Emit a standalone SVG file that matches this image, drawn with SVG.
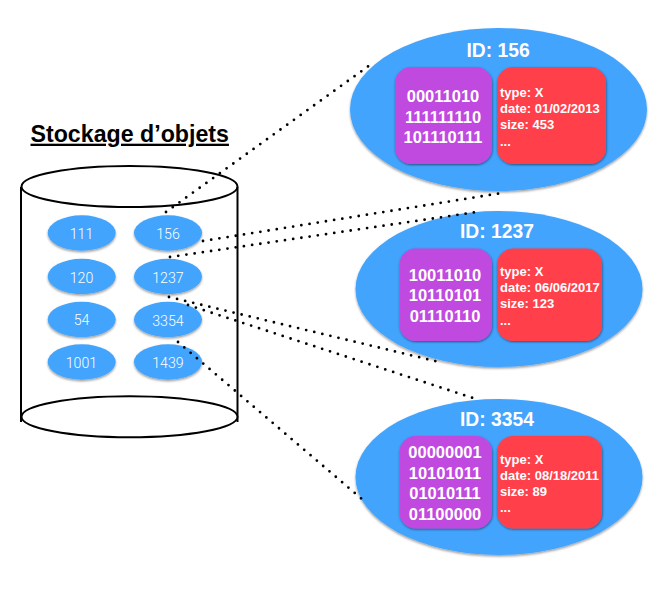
<svg xmlns="http://www.w3.org/2000/svg" width="666" height="593" viewBox="0 0 666 593">
<style>
text{font-family:"Liberation Sans",Arial,sans-serif;fill:#fff}
.title{font-size:23.2px;font-weight:bold;fill:#000;text-decoration:underline}
.id{font-size:19.3px;font-weight:bold;text-anchor:middle}
.bin{font-size:16.5px;font-weight:bold;text-anchor:middle}
.meta{font-size:13px;font-weight:bold}
.lbl{font-family:Roboto,"Liberation Sans",sans-serif;font-weight:300;font-size:14.2px;text-anchor:middle}
.blue{fill:#42a4fd;filter:url(#sh)}
.pur{fill:#c04ae0;filter:url(#shb)}
.red{fill:#ff404c;filter:url(#shb)}
.cyl{fill:#fff;stroke:#000;stroke-width:2}
.wall{fill:none;stroke:#000;stroke-width:2}
.dot{fill:none;stroke:#000;stroke-width:2.8;stroke-linecap:round;stroke-dasharray:0 8.3}
</style>
<defs>
<filter id="sh" x="-10%" y="-10%" width="120%" height="125%"><feDropShadow dx="0" dy="1.5" stdDeviation="1.2" flood-color="#000" flood-opacity=".4"/></filter>
<filter id="shb" x="-10%" y="-10%" width="120%" height="120%"><feDropShadow dx="0.5" dy="1" stdDeviation="0.8" flood-color="#000" flood-opacity=".5"/></filter>
</defs>
<text class="title" x="30.5" y="141.7">Stockage d’objets</text>
<g id="cylinder">
<ellipse class="cyl" cx="129.5" cy="186.5" rx="108" ry="20.5"/>
<path class="wall" d="M21 187V422M237.5 187V422"/>
<ellipse class="cyl" cx="129.5" cy="416.7" rx="108" ry="20.5"/>
</g>
<g id="o111"><ellipse class="blue" cx="81.7" cy="233" rx="34" ry="17.7"/><text class="lbl" x="81.5" y="239">111</text></g>
<g id="o156"><ellipse class="blue" cx="168" cy="233" rx="34" ry="17.7"/><text class="lbl" x="168" y="239">156</text></g>
<g id="o120"><ellipse class="blue" cx="81.7" cy="276.5" rx="34" ry="17.7"/><text class="lbl" x="81.5" y="282.7">120</text></g>
<g id="o1237"><ellipse class="blue" cx="168" cy="276.5" rx="34" ry="17.7"/><text class="lbl" x="168" y="282.7">1237</text></g>
<g id="o54"><ellipse class="blue" cx="81.7" cy="319.5" rx="34" ry="17.7"/><text class="lbl" x="81.5" y="325">54</text></g>
<g id="o3354"><ellipse class="blue" cx="168" cy="319.5" rx="34" ry="17.7"/><text class="lbl" x="168" y="326">3354</text></g>
<g id="o1001"><ellipse class="blue" cx="81.7" cy="362" rx="34" ry="17.7"/><text class="lbl" x="81.5" y="367.5">1001</text></g>
<g id="o1439"><ellipse class="blue" cx="168" cy="362" rx="34" ry="17.7"/><text class="lbl" x="168" y="367.5">1439</text></g>
<g id="detail156">
<ellipse class="blue" cx="498.5" cy="109.5" rx="148.5" ry="81.5"/>
<text class="id" x="498" y="56.7">ID: 156</text>
<rect class="pur" x="395" y="67" width="97" height="97" rx="16"/>
<rect class="red" x="497" y="67" width="109" height="97" rx="16"/>
<text class="bin" x="443" y="102">00011010</text>
<text class="bin" x="443" y="122.5">111111110</text>
<text class="bin" x="443" y="143">101110111</text>
<text class="meta" x="500" y="97">type: X</text>
<text class="meta" x="500" y="113">date: 01/02/2013</text>
<text class="meta" x="500" y="129">size: 453</text>
<text class="meta" x="500" y="145.5">...</text>
</g>
<g id="detail1237">
<ellipse class="blue" cx="499" cy="289" rx="143.5" ry="78"/>
<text class="id" x="497" y="237.7">ID: 1237</text>
<rect class="pur" x="399.5" y="248.5" width="92.5" height="92.5" rx="16"/>
<rect class="red" x="497" y="248.5" width="105" height="92.5" rx="16"/>
<text class="bin" x="445" y="281">10011010</text>
<text class="bin" x="445" y="301">10110101</text>
<text class="bin" x="445" y="322">01110110</text>
<text class="meta" x="500" y="276">type: X</text>
<text class="meta" x="500" y="292">date: 06/06/2017</text>
<text class="meta" x="500" y="308">size: 123</text>
<text class="meta" x="500" y="325">...</text>
</g>
<g id="detail3354">
<ellipse class="blue" cx="499" cy="477" rx="143.5" ry="78"/>
<text class="id" x="497" y="426">ID: 3354</text>
<rect class="pur" x="399.5" y="436" width="92.5" height="92.5" rx="16"/>
<rect class="red" x="497" y="436" width="105" height="92.5" rx="16"/>
<text class="bin" x="445" y="458">00000001</text>
<text class="bin" x="445" y="479">10101011</text>
<text class="bin" x="445" y="499">01010111</text>
<text class="bin" x="445" y="520">01100000</text>
<text class="meta" x="500" y="464">type: X</text>
<text class="meta" x="500" y="480">date: 08/18/2011</text>
<text class="meta" x="500" y="496">size: 89</text>
<text class="meta" x="500" y="512">...</text>
</g>
<g id="connectors">
<path class="dot" d="M166 212L370 65"/>
<path class="dot" d="M203 241L502 193"/>
<path class="dot" d="M170 257L477 212"/>
<path class="dot" d="M169 297L439 362"/>
<path class="dot" d="M188 305L476 399"/>
<path class="dot" d="M178 342L363 500"/>
</g>
</svg>
